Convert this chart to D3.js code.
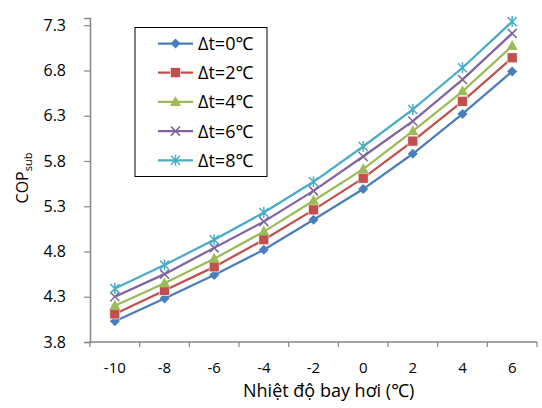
<!DOCTYPE html>
<html>
<head>
<meta charset="utf-8">
<script src="https://cdn.jsdelivr.net/npm/d3@7"></script>
<style>
	body { margin: 0; background: #fff; }
	svg text { font-family: 'Open Sans', 'Noto Sans', sans-serif; fill: #000; }
</style>
</head>
<body>
<svg id="chart" width="542" height="408"></svg>
<script>
// DATA
const temps = ['-10', '-8', '-6', '-4', '-2', '0', '2', '4', '6']
const seriesNames = ['Δt=0℃', 'Δt=2℃', 'Δt=4℃', 'Δt=6℃', 'Δt=8℃']
const dt0 = [4.03, 4.28, 4.54, 4.82, 5.15, 5.49, 5.88, 6.32, 6.79]
const dt2 = [4.11, 4.37, 4.63, 4.93, 5.26, 5.61, 6.02, 6.46, 6.94]
const dt4 = [4.20, 4.45, 4.72, 5.02, 5.36, 5.71, 6.13, 6.57, 7.07]
const dt6 = [4.30, 4.55, 4.84, 5.13, 5.47, 5.85, 6.24, 6.70, 7.21]
const dt8 = [4.39, 4.65, 4.93, 5.23, 5.57, 5.96, 6.37, 6.83, 7.34]
const yTicks = [3.8, 4.3, 4.8, 5.3, 5.8, 6.3, 6.8, 7.3]

const colors = ['#4a7ebb', '#c0504d', '#9bbb59', '#8064a2', '#4bacc6']
const shapes = ['diamond', 'square', 'triangle', 'cross', 'star']
const series = [dt0, dt2, dt4, dt6, dt8].map((values, i) => {
	return { name: seriesNames[i], values, color: colors[i], shape: shapes[i] }
})

const svg = d3.select('svg#chart')
const pLeft = 90, pRight = 537, pTop = 18, pBottom = 342

const x = d3.scaleBand().domain(temps).range([pLeft, pRight])
const y = d3.scaleLinear().domain([3.8, 7.38]).range([pBottom, pTop])
const axisColor = '#868686'

// Y AXIS
const yAxis = svg.append('g')
.attr('transform', `translate(${pLeft},0)`)
.call(d3.axisLeft(y).tickValues(yTicks).tickSize(6).tickPadding(18).tickFormat(d3.format('.1f')))
yAxis.select('.domain').attr('stroke', axisColor).attr('stroke-width', 1.5)
yAxis.selectAll('.tick line').attr('stroke', axisColor).attr('stroke-width', 1.2)
yAxis.selectAll('.tick text').style('font-size', '16px').attr('fill', '#000')

// X AXIS (ticks between categories)
const xg = svg.append('g').attr('transform', `translate(0,${pBottom})`)
xg.append('line')
.attr('x1', pLeft).attr('x2', pRight)
.attr('stroke', axisColor).attr('stroke-width', 1.5)
const boundaries = temps.map(d => x(d)).concat([x(temps[temps.length - 1]) + x.bandwidth()])
xg.selectAll('line.tk').data(boundaries).join('line')
.attr('class', 'tk')
.attr('x1', d => d).attr('x2', d => d)
.attr('y1', 0).attr('y2', 5)
.attr('stroke', axisColor).attr('stroke-width', 1.2)
xg.selectAll('text').data(temps).join('text')
.attr('x', d => x(d) + x.bandwidth() / 2)
.attr('y', 31)
.attr('text-anchor', 'middle')
.style('font-size', '15px')
.text(d => d)

// AXIS TITLES
svg.append('text')
.attr('x', 243).attr('y', 397)
.style('font-size', '18px')
.text('Nhiệt độ bay hơi (℃)')

const yt = svg.append('text')
.attr('transform', 'translate(28,178) rotate(-90)')
.attr('text-anchor', 'middle')
.style('font-size', '16px')
yt.append('tspan').text('COP')
yt.append('tspan').attr('dy', 4).style('font-size', '11px').text('sub')

// MARKERS
function marker (g, shape, color) {
	if (shape === 'diamond') {
		g.append('path').attr('d', 'M0,-5L5,0L0,5L-5,0Z').attr('fill', color)
	} else if (shape === 'square') {
		g.append('rect').attr('x', -5).attr('y', -5).attr('width', 10).attr('height', 10)
		.attr('fill', color).attr('stroke', '#fff').attr('stroke-width', 0.6)
	} else if (shape === 'triangle') {
		g.append('path').attr('d', 'M0,-6L5.5,4L-5.5,4Z').attr('fill', color)
	} else if (shape === 'cross') {
		g.append('path').attr('d', 'M-4.5,-4.5L4.5,4.5M-4.5,4.5L4.5,-4.5')
		.attr('stroke', color).attr('stroke-width', 1.5).attr('fill', 'none')
	} else {
		g.append('path').attr('d', 'M-4.5,-4.5L4.5,4.5M-4.5,4.5L4.5,-4.5M0,-5.5L0,5.5')
		.attr('stroke', color).attr('stroke-width', 1.5).attr('fill', 'none')
	}
}

const cx = d => x(d) + x.bandwidth() / 2
const line = d3.line().x((d, i) => cx(temps[i])).y(d => y(d))

series.forEach(s => {
	svg.append('path')
	.datum(s.values)
	.attr('d', line)
	.attr('fill', 'none')
	.attr('stroke', s.color)
	.attr('stroke-width', 2.25)
	s.values.forEach((v, i) => {
		const g = svg.append('g').attr('transform', `translate(${cx(temps[i])},${y(v)})`)
		marker(g, s.shape, s.color)
	})
})

// LEGEND
const legend = svg.append('g')
legend.append('rect')
.attr('x', 135).attr('y', 27.5).attr('width', 132).attr('height', 149)
.attr('fill', '#fff').attr('stroke', '#000').attr('stroke-width', 1)
series.forEach((s, i) => {
	const ly = 43.5 + i * 29.2
	legend.append('line')
	.attr('x1', 158).attr('x2', 193).attr('y1', ly).attr('y2', ly)
	.attr('stroke', s.color).attr('stroke-width', 2.25)
	marker(legend.append('g').attr('transform', `translate(175.5,${ly})`), s.shape, s.color)
	legend.append('text')
	.attr('x', 198).attr('y', ly + 6.5)
	.style('font-size', '18px')
	.text(s.name)
})
</script>
</body>
</html>
